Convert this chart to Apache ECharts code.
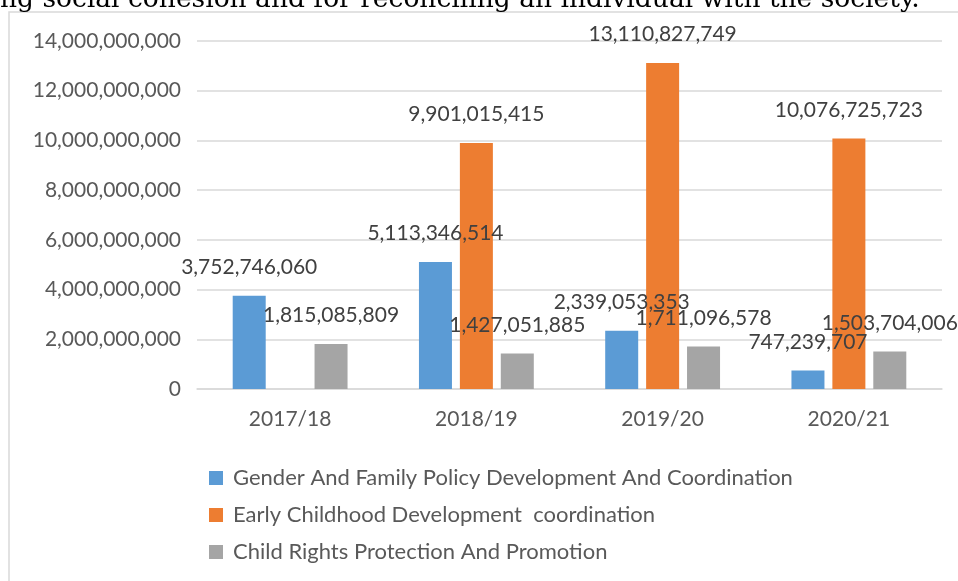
<!DOCTYPE html>
<html>
<head>
<meta charset="utf-8">
<script src="https://cdn.jsdelivr.net/npm/echarts@6/dist/echarts.min.js"></script>
<style>
  html, body { margin: 0; padding: 0; background: #ffffff; }
  #chart { width: 958px; height: 581px; }
</style>
</head>
<body>
<div id="chart"></div>
<script>
// categories and values
var years = ['2017/18', '2018/19', '2019/20', '2020/21']
var seriesNames = [
  'Gender And Family Policy Development And Coordination',
  'Early Childhood Development  coordination',
  'Child Rights Protection And Promotion'
]
var genderFamily = [3752746060, 5113346514, 2339053353, 747239707]
var earlyChildhood = [null, 9901015415, 13110827749, 10076725723]
var childRights = [1815085809, 1427051885, 1711096578, 1503704006]
var yTicks = [0, 2000000000, 4000000000, 6000000000, 8000000000, 10000000000, 12000000000, 14000000000]

var colors = ['#5B9BD5', '#ED7D31', '#A5A5A5']
var font = 'Lato'

function fmt (v) {
  return Number(v).toLocaleString('en-US')
}

var chart = echarts.init(document.getElementById('chart'), null, { renderer: 'canvas' })

function barSeries (name, data, color) {
  return {
    name: name,
    type: 'bar',
    data: data,
    barWidth: 33,
    barGap: '24%',
    itemStyle: { color: color },
    label: {
      show: true,
      position: 'top',
      distance: 18,
      color: '#404040',
      fontFamily: font,
      fontSize: 21,
      formatter: function (p) { return p.value == null ? '' : fmt(p.value) }
    },
    animation: false
  }
}

var option = {
  animation: false,
  backgroundColor: '#ffffff',
  grid: { left: 197, right: 16, top: 41, bottom: 192, containLabel: false },
  graphic: [
    {
      type: 'rect',
      z: -1,
      shape: { x: 9, y: 12, width: 1000, height: 620 },
      style: { fill: 'none', stroke: '#d9d9d9', lineWidth: 1.5 }
    },
    {
      // tail of the document sentence above the chart, cut by the page edge
      type: 'text',
      style: {
        x: 0,
        y: 0,
        verticalAlign: 'middle',
        text: 'ng social cohesion and for reconciling an individual with the society.',
        font: '26.5px "DejaVu Serif"',
        fill: '#000000'
      }
    }
  ],
  legend: {
    orient: 'vertical',
    left: 204,
    top: 462,
    icon: 'rect',
    itemWidth: 14,
    itemHeight: 14,
    itemGap: 15,
    textStyle: { color: '#595959', fontFamily: font, fontSize: 22, padding: [0, 0, 0, 5] },
    data: seriesNames
  },
  xAxis: {
    type: 'category',
    data: years,
    axisTick: { show: false },
    axisLine: { lineStyle: { color: '#d9d9d9', width: 1.5 } },
    axisLabel: { color: '#595959', fontFamily: font, fontSize: 21, margin: 20 }
  },
  yAxis: {
    type: 'value',
    min: yTicks[0],
    max: yTicks[yTicks.length - 1],
    interval: yTicks[1] - yTicks[0],
    axisLine: { show: false },
    axisTick: { show: false },
    splitLine: { lineStyle: { color: '#d9d9d9', width: 1.5 } },
    axisLabel: { color: '#595959', fontFamily: font, fontSize: 21, margin: 16, formatter: fmt }
  },
  series: [
    barSeries(seriesNames[0], genderFamily, colors[0]),
    barSeries(seriesNames[1], earlyChildhood, colors[1]),
    barSeries(seriesNames[2], childRights, colors[2])
  ]
}

chart.setOption(option)
</script>
</body>
</html>
